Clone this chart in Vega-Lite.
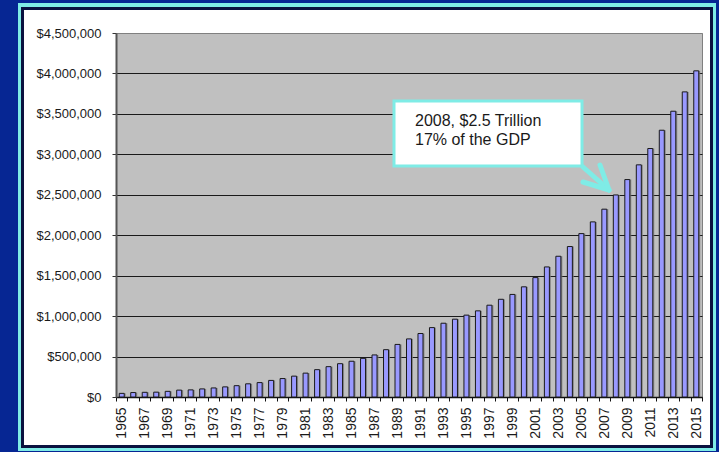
{
  "$schema": "https://vega.github.io/schema/vega-lite/v6.json",
  "width": 586,
  "height": 364,
  "autosize": {"type": "none"},
  "padding": {"left": 116, "top": 33, "right": 17, "bottom": 55},
  "background": "white",
  "config": {
    "view": {"fill": "#c0c0c0", "stroke": "#808080", "strokeWidth": 1},
    "font": "Liberation Sans",
    "axis": {"labelFont": "Liberation Sans", "labelFontSize": 13, "labelColor": "#1a1a1a", "title": null}
  },
  "resolve": {"axis": {"x": "independent"}},
  "data": {
    "values": [
      {"year": 1965, "spending": 45000},
      {"year": 1966, "spending": 55000},
      {"year": 1967, "spending": 58000},
      {"year": 1968, "spending": 60000},
      {"year": 1969, "spending": 70000},
      {"year": 1970, "spending": 85000},
      {"year": 1971, "spending": 88000},
      {"year": 1972, "spending": 100000},
      {"year": 1973, "spending": 112000},
      {"year": 1974, "spending": 125000},
      {"year": 1975, "spending": 140000},
      {"year": 1976, "spending": 163000},
      {"year": 1977, "spending": 178000},
      {"year": 1978, "spending": 205000},
      {"year": 1979, "spending": 228000},
      {"year": 1980, "spending": 258000},
      {"year": 1981, "spending": 295000},
      {"year": 1982, "spending": 338000},
      {"year": 1983, "spending": 375000},
      {"year": 1984, "spending": 412000},
      {"year": 1985, "spending": 442000},
      {"year": 1986, "spending": 478000},
      {"year": 1987, "spending": 520000},
      {"year": 1988, "spending": 585000},
      {"year": 1989, "spending": 650000},
      {"year": 1990, "spending": 718000},
      {"year": 1991, "spending": 785000},
      {"year": 1992, "spending": 858000},
      {"year": 1993, "spending": 912000},
      {"year": 1994, "spending": 962000},
      {"year": 1995, "spending": 1012000},
      {"year": 1996, "spending": 1065000},
      {"year": 1997, "spending": 1135000},
      {"year": 1998, "spending": 1208000},
      {"year": 1999, "spending": 1268000},
      {"year": 2000, "spending": 1362000},
      {"year": 2001, "spending": 1476000},
      {"year": 2002, "spending": 1608000},
      {"year": 2003, "spending": 1740000},
      {"year": 2004, "spending": 1860000},
      {"year": 2005, "spending": 2020000},
      {"year": 2006, "spending": 2165000},
      {"year": 2007, "spending": 2322000},
      {"year": 2008, "spending": 2498000},
      {"year": 2009, "spending": 2688000},
      {"year": 2010, "spending": 2870000},
      {"year": 2011, "spending": 3072000},
      {"year": 2012, "spending": 3298000},
      {"year": 2013, "spending": 3533000},
      {"year": 2014, "spending": 3772000},
      {"year": 2015, "spending": 4032000}
    ]
  },
  "layer": [
    {
      "mark": {"type": "bar", "width": 5, "xOffset": 1.5, "fill": "#7a7a7a", "opacity": 0.8},
      "encoding": {
        "x": {
          "field": "year",
          "type": "quantitative",
          "scale": {"domain": [1964.5, 2015.5], "nice": false, "zero": false, "padding": 0},
          "axis": {
            "orient": "bottom",
            "title": null,
            "grid": false,
            "labels": false,
            "values": [1964.5, 1965.5, 1966.5, 1967.5, 1968.5, 1969.5, 1970.5, 1971.5, 1972.5, 1973.5, 1974.5, 1975.5, 1976.5, 1977.5, 1978.5, 1979.5, 1980.5, 1981.5, 1982.5, 1983.5, 1984.5, 1985.5, 1986.5, 1987.5, 1988.5, 1989.5, 1990.5, 1991.5, 1992.5, 1993.5, 1994.5, 1995.5, 1996.5, 1997.5, 1998.5, 1999.5, 2000.5, 2001.5, 2002.5, 2003.5, 2004.5, 2005.5, 2006.5, 2007.5, 2008.5, 2009.5, 2010.5, 2011.5, 2012.5, 2013.5, 2014.5, 2015.5],
            "tickSize": 4,
            "tickColor": "#111111",
            "tickWidth": 1,
            "domainColor": "#111111",
            "domainWidth": 1.5
          }
        },
        "y": {
          "field": "spending",
          "type": "quantitative",
          "scale": {"domain": [0, 4500000], "nice": false, "zero": false, "padding": 0},
          "axis": {
            "title": null,
            "values": [0, 500000, 1000000, 1500000, 2000000, 2500000, 3000000, 3500000, 4000000, 4500000],
            "format": "$,.0f",
            "grid": true,
            "gridWidth": 1,
            "gridColor": {"condition": {"test": "datum.value == 4500000", "value": "#808080"}, "value": "#1a1a1a"},
            "labelFontSize": 13,
            "labelPadding": 11,
            "tickSize": 4,
            "tickColor": "#333333",
            "domainColor": "#555555",
            "domainWidth": 2
          }
        }
      }
    },
    {
      "mark": {"type": "bar", "width": 5, "fill": "#9999ff", "stroke": "#1a1a1a", "strokeWidth": 1},
      "encoding": {
        "x": {
          "field": "year",
          "type": "quantitative",
          "axis": {
            "orient": "bottom",
            "title": null,
            "grid": false,
            "domain": false,
            "ticks": false,
            "tickSize": 0,
            "values": [1965, 1967, 1969, 1971, 1973, 1975, 1977, 1979, 1981, 1983, 1985, 1987, 1989, 1991, 1993, 1995, 1997, 1999, 2001, 2003, 2005, 2007, 2009, 2011, 2013, 2015],
            "format": "d",
            "labelAngle": -90,
            "labelAlign": "right",
            "labelBaseline": "middle",
            "labelFlush": false,
            "labelOverlap": false,
            "labelBound": false,
            "labelPadding": 10,
            "labelFontSize": 14,
            "labelFont": "Liberation Sans",
            "labelColor": "#1a1a1a"
          }
        },
        "y": {"field": "spending", "type": "quantitative"}
      }
    },
    {
      "data": {"values": [{}]},
      "mark": {"type": "rect", "fill": null, "stroke": "#062693", "strokeWidth": 60, "clip": false},
      "encoding": {
        "x": {"datum": 1953.36, "type": "quantitative", "axis": null},
        "x2": {"datum": 2019.329},
        "y": {"datum": 5241756, "type": "quantitative"},
        "y2": {"datum": -1038458}
      }
    },
    {
      "data": {"values": [{}]},
      "mark": {"type": "rect", "fill": null, "stroke": "#7fece6", "strokeWidth": 4, "clip": false},
      "encoding": {
        "x": {"datum": 1956.145, "type": "quantitative", "axis": null},
        "x2": {"datum": 2016.544},
        "y": {"datum": 4846153, "type": "quantitative"},
        "y2": {"datum": -642855}
      }
    },
    {
      "data": {"values": [{}]},
      "mark": {"type": "rect", "fill": null, "stroke": "#0a1240", "strokeWidth": 3, "clip": false},
      "encoding": {
        "x": {"datum": 1956.363, "type": "quantitative", "axis": null},
        "x2": {"datum": 2016.327},
        "y": {"datum": 4802884, "type": "quantitative"},
        "y2": {"datum": -611949}
      }
    },
    {
      "data": {"values": [{}]},
      "mark": {"type": "rect", "fill": "white", "stroke": "#7fece6", "strokeWidth": 3},
      "encoding": {
        "x": {"datum": 1988.695, "type": "quantitative", "axis": null},
        "x2": {"datum": 2005.056},
        "y": {"datum": 3659330, "type": "quantitative"},
        "y2": {"datum": 2855760}
      }
    },
    {
      "data": {"values": [{}]},
      "mark": {"type": "text", "align": "left", "baseline": "alphabetic", "fontSize": 16, "lineHeight": 19, "font": "Liberation Sans", "color": "#1a1a1a", "text": ["2008, $2.5 Trillion", "17% of the GDP"]},
      "encoding": {
        "x": {"datum": 1990.522, "type": "quantitative", "axis": null},
        "y": {"datum": 3350265, "type": "quantitative"}
      }
    },
    {
      "data": {"values": [{}]},
      "mark": {"type": "rule", "stroke": "#7fece6", "strokeWidth": 5, "strokeCap": "round"},
      "encoding": {
        "x": {"datum": 2005.143, "type": "quantitative", "axis": null},
        "x2": {"datum": 2007.406},
        "y": {"datum": 2843398, "type": "quantitative"},
        "y2": {"datum": 2559058}
      }
    },
    {
      "data": {"values": [{}]},
      "mark": {"type": "rule", "stroke": "#7fece6", "strokeWidth": 5, "strokeCap": "round"},
      "encoding": {
        "x": {"datum": 2006.622, "type": "quantitative", "axis": null},
        "x2": {"datum": 2007.406},
        "y": {"datum": 2868123, "type": "quantitative"},
        "y2": {"datum": 2559058}
      }
    },
    {
      "data": {"values": [{}]},
      "mark": {"type": "rule", "stroke": "#7fece6", "strokeWidth": 5, "strokeCap": "round"},
      "encoding": {
        "x": {"datum": 2005.143, "type": "quantitative", "axis": null},
        "x2": {"datum": 2007.406},
        "y": {"datum": 2657959, "type": "quantitative"},
        "y2": {"datum": 2559058}
      }
    }
  ]
}
